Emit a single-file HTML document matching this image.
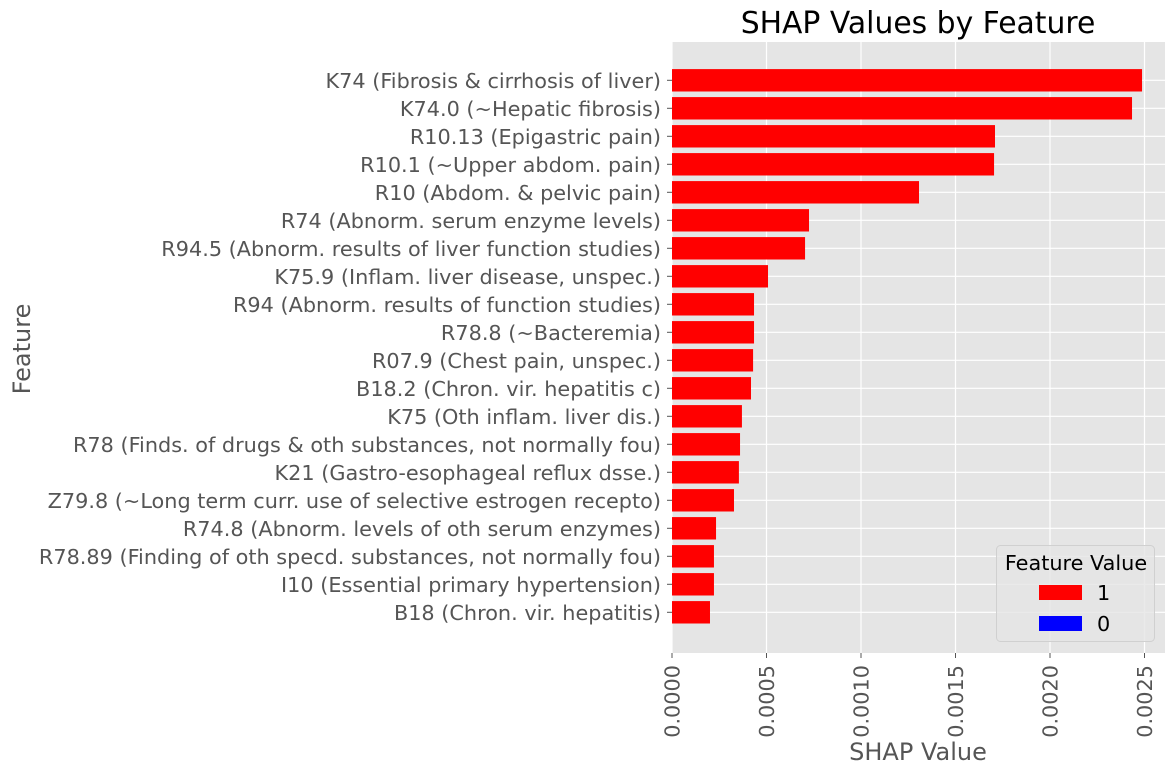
<!DOCTYPE html>
<html><head><meta charset="utf-8"><style>
html,body{margin:0;padding:0;background:#fff;}
svg{display:block;font-family:"DejaVu Sans","Liberation Sans",sans-serif;}
</style></head><body>
<svg id="chart" width="1174" height="775" viewBox="0 0 1174 775">
<rect x="672" y="42" width="493" height="611" fill="#e5e5e5"/>
<g id="grid"></g>
<g id="bars"></g>
<g id="yticks"></g>
<g id="xticks"></g>
<text x="918" y="33" font-size="29.8" text-anchor="middle" fill="#000">SHAP Values by Feature</text>
<text x="918" y="760" font-size="24" text-anchor="middle" fill="#555">SHAP Value</text>
<text transform="translate(30,349) rotate(-90)" font-size="24" text-anchor="middle" fill="#555">Feature</text>
<g>
<rect x="996.5" y="545.5" width="158" height="96" rx="4" fill="#e5e5e5" fill-opacity="0.8" stroke="#d0d0d0"/>
<text x="1076" y="570" font-size="20.8" text-anchor="middle" fill="#000">Feature Value</text>
<rect x="1039" y="585" width="43" height="15" fill="#ff0000"/>
<text x="1097" y="600" font-size="20.8" fill="#000">1</text>
<rect x="1039" y="616" width="43" height="15" fill="#0000ff"/>
<text x="1097" y="631" font-size="20.8" fill="#000">0</text>
</g>
</svg>
<script>
const features = [
"K74 (Fibrosis & cirrhosis of liver)",
"K74.0 (~Hepatic fibrosis)",
"R10.13 (Epigastric pain)",
"R10.1 (~Upper abdom. pain)",
"R10 (Abdom. & pelvic pain)",
"R74 (Abnorm. serum enzyme levels)",
"R94.5 (Abnorm. results of liver function studies)",
"K75.9 (Inflam. liver disease, unspec.)",
"R94 (Abnorm. results of function studies)",
"R78.8 (~Bacteremia)",
"R07.9 (Chest pain, unspec.)",
"B18.2 (Chron. vir. hepatitis c)",
"K75 (Oth inflam. liver dis.)",
"R78 (Finds. of drugs & oth substances, not normally fou)",
"K21 (Gastro-esophageal reflux dsse.)",
"Z79.8 (~Long term curr. use of selective estrogen recepto)",
"R74.8 (Abnorm. levels of oth serum enzymes)",
"R78.89 (Finding of oth specd. substances, not normally fou)",
"I10 (Essential primary hypertension)",
"B18 (Chron. vir. hepatitis)"
];
const shapValues = [0.002487,0.002434,0.001709,0.001704,0.001307,0.000725,0.000704,0.000508,0.000434,0.000434,0.000429,0.000418,0.00037,0.00036,0.000354,0.000328,0.000233,0.000222,0.000222,0.000201];
const xTicks = [0,0.0005,0.001,0.0015,0.002,0.0025];
const xTickLabels = ["0.0000","0.0005","0.0010","0.0015","0.0020","0.0025"];

const NS="http://www.w3.org/2000/svg";
const X0=672, PXPER=94.5/0.0005;
function xs(v){return X0+v*PXPER;}
const Y0=80.3, STEP=28, BH=22.4;
function ys(i){return Y0+i*STEP;}
function mk(tag,attrs,parent){const e=document.createElementNS(NS,tag);for(const k in attrs)e.setAttribute(k,attrs[k]);parent.appendChild(e);return e;}
const grid=document.getElementById('grid'),bars=document.getElementById('bars'),yt=document.getElementById('yticks'),xt=document.getElementById('xticks');
xTicks.forEach((v,i)=>{
  const x=xs(v);
  const g=mk('line',{x1:x,x2:x,y1:42,y2:653,stroke:'#fff','stroke-width':1.2},grid);
  
  
  const t=mk('line',{x1:x,x2:x,y1:653,y2:658,stroke:'#555','stroke-width':1},xt);
  
  
  const tx=mk('text',{transform:`translate(${x+7.5},665) rotate(-90)`,'font-size':20.8,'text-anchor':'end',fill:'#555'},xt);
  tx.textContent=xTickLabels[i];
  
  
});
features.forEach((f,i)=>{
  const y=ys(i);
  const g=mk('line',{x1:672,x2:1165,y1:y,y2:y,stroke:'#fff','stroke-width':1.2},grid);
  
  
  const b=mk('rect',{x:X0,y:y-BH/2,width:Math.max(0,xs(shapValues[i])-X0),height:BH,fill:'#ff0000'},bars);
  
  
  const t=mk('line',{x1:667,x2:672,y1:y,y2:y,stroke:'#555','stroke-width':1},yt);
  
  
  const tx=mk('text',{x:661,y:y+7.5,'font-size':20.8,'text-anchor':'end',fill:'#555'},yt);
  tx.textContent=f;
  
  
});
</script>
</body></html>
